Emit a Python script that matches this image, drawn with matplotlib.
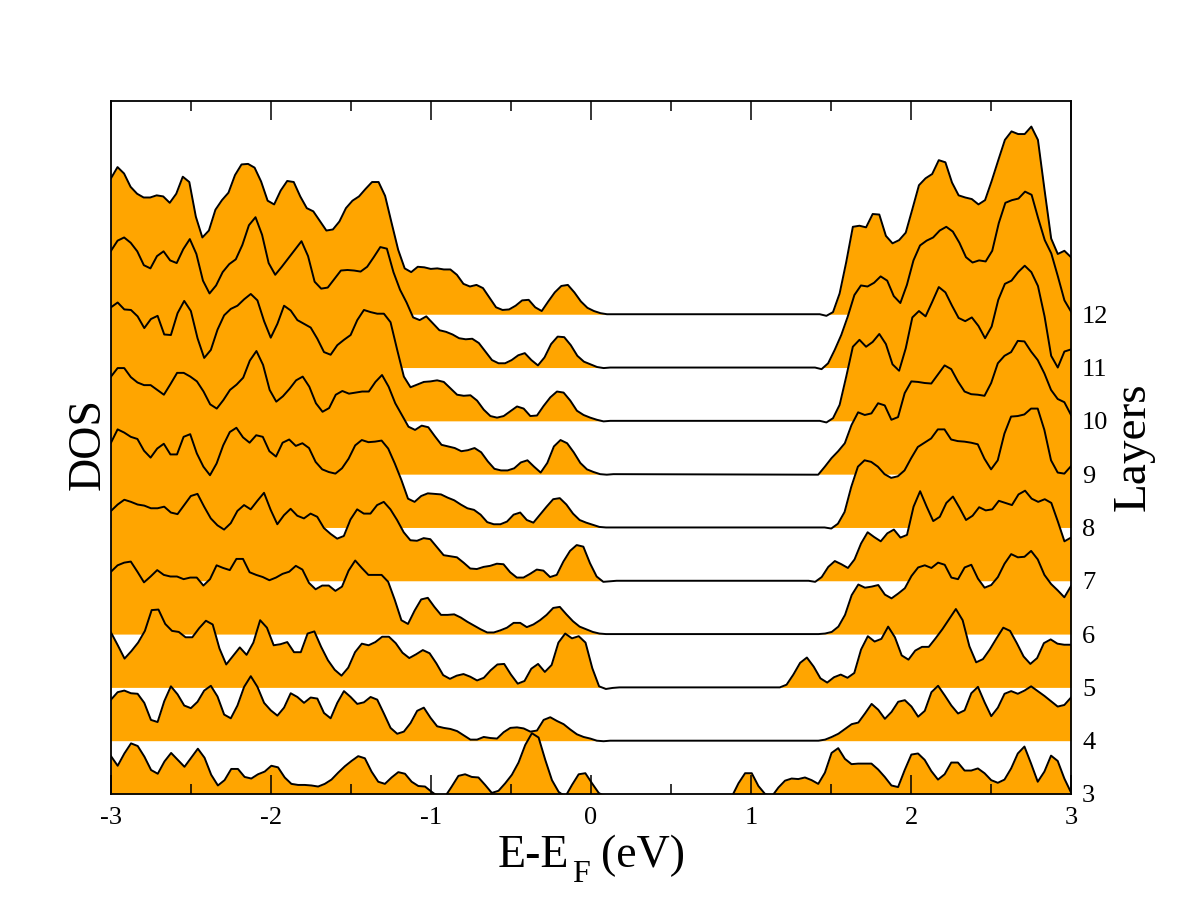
import numpy as np
import matplotlib
matplotlib.use('Agg')
import matplotlib.pyplot as plt

plt.rcParams['font.family'] = ['Liberation Serif', 'DejaVu Serif']

layers = [12, 11, 10, 9, 8, 7, 6, 5, 4, 3]
x_major = [-3, -2, -1, 0, 1, 2, 3]
x_minor = [-2.5, -1.5, -0.5, 0.5, 1.5, 2.5]
x_labels = ['-3', '-2', '-1', '0', '1', '2', '3']

# last energy of the valence part and first energy of the conduction part
valence_end = [0.10, 0.12, 0.12, 0.14, 0.135, 0.16, 0.135, 0.22, 0.12, 0.09]
conduction_start = [1.43, 1.40, 1.43, 1.42, 1.46, 1.36, 1.38, 1.18, 1.38, 0.88]

valence_12 = [2.55, 2.76, 2.64, 2.39, 2.26, 2.19, 2.19, 2.23, 2.21, 2.09, 2.26, 2.58, 2.48, 1.83, 1.44, 1.57,
              1.96, 2.14, 2.28, 2.61, 2.81, 2.82, 2.75, 2.49, 2.13, 2.06, 2.32, 2.50, 2.48, 2.21, 1.99, 1.93,
              1.75, 1.57, 1.59, 1.74, 1.99, 2.13, 2.21, 2.35, 2.48, 2.48, 2.22, 1.71, 1.21, 0.86, 0.79, 0.89,
              0.88, 0.85, 0.86, 0.84, 0.84, 0.74, 0.57, 0.52, 0.55, 0.49, 0.31, 0.13, 0.08, 0.09, 0.16, 0.26,
              0.27, 0.13, 0.06, 0.24, 0.41, 0.53, 0.55, 0.41, 0.24, 0.12, 0.06, 0.02, 0.0]
conduction_12 = [0.0, -0.03, 0.04, 0.39, 0.98, 1.64, 1.66, 1.63, 1.88, 1.87, 1.47, 1.33, 1.39, 1.53, 1.97, 2.42,
                 2.55, 2.63, 2.89, 2.85, 2.47, 2.23, 2.19, 2.16, 2.06, 2.14, 2.50, 2.89, 3.27, 3.43, 3.38,
                 3.38, 3.52, 3.27, 2.33, 1.42, 1.13, 1.19, 1.07]

valence_11 = [2.19, 2.38, 2.44, 2.34, 2.18, 1.92, 1.86, 2.09, 2.18, 2.01, 1.96, 2.22, 2.41, 2.13, 1.63, 1.39,
              1.54, 1.79, 1.94, 2.03, 2.30, 2.67, 2.82, 2.49, 1.96, 1.74, 1.89, 2.05, 2.21, 2.37, 2.09, 1.61,
              1.48, 1.50, 1.66, 1.82, 1.83, 1.82, 1.80, 1.89, 2.07, 2.26, 2.23, 1.79, 1.46, 1.22, 0.94, 0.89,
              0.96, 0.83, 0.70, 0.67, 0.62, 0.55, 0.53, 0.54, 0.46, 0.30, 0.14, 0.08, 0.08, 0.14, 0.23, 0.27,
              0.14, 0.04, 0.19, 0.44, 0.58, 0.57, 0.42, 0.22, 0.11, 0.06, 0.01, -0.01, 0.0]
conduction_11 = [0.0, -0.03, 0.08, 0.33, 0.61, 0.96, 1.36, 1.54, 1.52, 1.59, 1.71, 1.63, 1.34, 1.21, 1.55, 2.01,
                 2.29, 2.38, 2.44, 2.57, 2.64, 2.55, 2.34, 2.07, 1.97, 2.01, 1.99, 2.19, 2.71, 3.09, 3.14,
                 3.17, 3.30, 3.24, 2.80, 2.39, 2.14, 1.71, 1.26, 1.05]

valence_10 = [2.13, 2.22, 2.09, 2.08, 1.96, 1.74, 1.91, 1.97, 1.62, 1.61, 2.02, 2.25, 2.06, 1.55, 1.18, 1.33,
              1.71, 1.98, 2.10, 2.16, 2.28, 2.38, 2.26, 1.87, 1.56, 1.82, 2.16, 2.07, 1.89, 1.82, 1.75, 1.54,
              1.29, 1.24, 1.42, 1.52, 1.61, 1.89, 2.08, 2.04, 2.01, 2.01, 1.85, 1.33, 0.83, 0.63, 0.68, 0.73,
              0.74, 0.76, 0.73, 0.61, 0.49, 0.47, 0.48, 0.38, 0.21, 0.09, 0.06, 0.09, 0.18, 0.27, 0.23, 0.09,
              0.10, 0.28, 0.44, 0.55, 0.53, 0.38, 0.19, 0.11, 0.06, 0.02, -0.01, 0.0]
conduction_10 = [0.0, -0.03, 0.05, 0.30, 0.83, 1.39, 1.52, 1.39, 1.48, 1.63, 1.44, 1.06, 0.94, 1.36, 1.94, 2.06,
                 1.96, 2.23, 2.51, 2.41, 2.16, 1.93, 1.87, 1.94, 1.78, 1.55, 1.77, 2.27, 2.57, 2.63, 2.79,
                 2.91, 2.79, 2.53, 1.96, 1.22, 1.00, 1.30, 1.34]

valence_9 = [1.83, 1.99, 1.99, 1.82, 1.72, 1.67, 1.67, 1.58, 1.49, 1.69, 1.90, 1.90, 1.83, 1.74, 1.55, 1.31,
             1.23, 1.39, 1.58, 1.68, 1.81, 2.13, 2.31, 2.05, 1.58, 1.36, 1.46, 1.60, 1.76, 1.83, 1.64, 1.33,
             1.17, 1.24, 1.49, 1.56, 1.51, 1.53, 1.55, 1.55, 1.73, 1.86, 1.64, 1.33, 1.11, 0.89, 0.83, 0.91,
             0.88, 0.71, 0.55, 0.52, 0.49, 0.43, 0.45, 0.49, 0.41, 0.24, 0.10, 0.07, 0.07, 0.11, 0.22, 0.26,
             0.14, 0.03, 0.21, 0.52, 0.64, 0.58, 0.41, 0.21, 0.09, 0.04, 0.0, -0.01, 0.0]
conduction_9 = [-0.01, 0.14, 0.30, 0.43, 0.58, 0.92, 1.16, 1.11, 1.14, 1.33, 1.29, 1.02, 1.07, 1.52, 1.74,
                1.73, 1.71, 1.70, 1.87, 2.04, 1.97, 1.74, 1.55, 1.50, 1.49, 1.47, 1.71, 2.08, 2.22, 2.29,
                2.50, 2.49, 2.30, 2.14, 1.89, 1.58, 1.41, 1.35, 1.11]

valence_8 = [1.59, 1.84, 1.78, 1.70, 1.66, 1.44, 1.31, 1.48, 1.57, 1.37, 1.37, 1.70, 1.75, 1.39, 1.14, 0.98,
             1.20, 1.54, 1.79, 1.87, 1.69, 1.59, 1.73, 1.70, 1.43, 1.33, 1.59, 1.65, 1.53, 1.58, 1.49, 1.23,
             1.09, 1.04, 1.01, 1.11, 1.29, 1.54, 1.64, 1.60, 1.61, 1.63, 1.48, 1.20, 0.89, 0.54, 0.48, 0.59,
             0.64, 0.63, 0.62, 0.56, 0.51, 0.43, 0.36, 0.33, 0.24, 0.10, 0.06, 0.06, 0.11, 0.24, 0.28, 0.14,
             0.09, 0.24, 0.39, 0.53, 0.55, 0.43, 0.26, 0.14, 0.09, 0.05, 0.01, 0.0, 0.0]
conduction_8 = [0.0, -0.02, 0.07, 0.29, 0.76, 1.14, 1.26, 1.23, 1.14, 1.00, 0.93, 0.96, 1.07, 1.30, 1.51,
                1.59, 1.67, 1.84, 1.84, 1.65, 1.62, 1.61, 1.59, 1.56, 1.29, 1.09, 1.26, 1.76, 2.08, 2.09,
                2.12, 2.23, 2.23, 1.83, 1.26, 1.03, 1.01, 1.15]

valence_7 = [1.31, 1.43, 1.52, 1.48, 1.43, 1.41, 1.36, 1.36, 1.39, 1.28, 1.25, 1.42, 1.59, 1.63, 1.39, 1.17,
             1.04, 0.96, 1.08, 1.31, 1.42, 1.34, 1.50, 1.65, 1.33, 1.06, 1.23, 1.35, 1.22, 1.17, 1.26, 1.20,
             0.99, 0.88, 0.79, 0.84, 1.15, 1.34, 1.26, 1.26, 1.42, 1.48, 1.34, 1.14, 0.91, 0.76, 0.75, 0.80,
             0.78, 0.63, 0.48, 0.46, 0.44, 0.34, 0.23, 0.22, 0.26, 0.28, 0.32, 0.31, 0.16, 0.06, 0.06, 0.13,
             0.21, 0.19, 0.07, 0.11, 0.36, 0.56, 0.67, 0.64, 0.33, 0.08, -0.02, -0.01, 0.0]
conduction_7 = [0.0, -0.02, 0.07, 0.26, 0.37, 0.31, 0.24, 0.40, 0.70, 0.91, 0.82, 0.74, 0.89, 0.96, 0.81, 0.86,
                1.39, 1.68, 1.39, 1.12, 1.20, 1.46, 1.58, 1.37, 1.14, 1.22, 1.38, 1.32, 1.34, 1.50, 1.46,
                1.42, 1.62, 1.69, 1.54, 1.48, 1.53, 1.46, 1.11, 0.74, 0.81]

valence_6 = [1.17, 1.29, 1.34, 1.36, 1.17, 0.97, 1.08, 1.20, 1.11, 1.08, 1.08, 1.03, 1.06, 1.06, 0.91, 1.03,
             1.29, 1.24, 1.20, 1.41, 1.41, 1.16, 1.11, 1.07, 1.01, 1.06, 1.13, 1.17, 1.28, 1.21, 0.96, 0.84,
             0.91, 0.91, 0.81, 0.89, 1.19, 1.38, 1.24, 1.11, 1.11, 1.11, 0.98, 0.64, 0.26, 0.19, 0.44, 0.65,
             0.68, 0.51, 0.36, 0.36, 0.37, 0.31, 0.23, 0.16, 0.09, 0.03, 0.03, 0.07, 0.12, 0.21, 0.21, 0.13,
             0.18, 0.26, 0.36, 0.49, 0.51, 0.37, 0.24, 0.14, 0.09, 0.04, 0.01, 0.0, 0.0]
conduction_6 = [0.0, 0.0, 0.01, 0.04, 0.14, 0.36, 0.73, 0.93, 0.87, 0.89, 0.92, 0.74, 0.67, 0.76, 0.86,
                1.09, 1.25, 1.29, 1.24, 1.34, 1.30, 1.06, 1.03, 1.25, 1.30, 1.04, 0.87, 0.92, 1.07, 1.32,
                1.50, 1.44, 1.45, 1.56, 1.40, 1.11, 0.94, 0.82, 0.69, 0.90]

valence_5 = [1.03, 0.79, 0.54, 0.68, 0.84, 1.06, 1.45, 1.46, 1.19, 1.06, 1.04, 0.94, 0.94, 1.11, 1.25, 1.18,
             0.73, 0.43, 0.59, 0.75, 0.61, 0.84, 1.26, 1.12, 0.79, 0.81, 0.85, 0.66, 0.66, 1.01, 1.05, 0.76,
             0.51, 0.33, 0.22, 0.37, 0.66, 0.82, 0.79, 0.85, 0.95, 0.95, 0.83, 0.65, 0.55, 0.62, 0.70, 0.64,
             0.45, 0.23, 0.16, 0.22, 0.25, 0.20, 0.13, 0.18, 0.32, 0.43, 0.44, 0.24, 0.07, 0.12, 0.35, 0.44,
             0.29, 0.42, 0.84, 1.01, 0.92, 0.96, 0.84, 0.36, 0.02, -0.03, -0.01, 0.0, 0.0]
conduction_5 = [0.0, 0.05, 0.24, 0.46, 0.56, 0.39, 0.17, 0.09, 0.19, 0.24, 0.18, 0.27, 0.71, 0.96, 0.86,
                0.91, 1.14, 0.94, 0.60, 0.52, 0.69, 0.76, 0.76, 0.92, 1.09, 1.28, 1.47, 1.26, 0.77, 0.47,
                0.53, 0.71, 0.92, 1.12, 1.06, 0.83, 0.58, 0.44, 0.55, 0.83, 0.90, 0.82, 0.80, 0.80]

valence_4 = [0.77, 0.91, 0.94, 0.89, 0.88, 0.71, 0.39, 0.35, 0.74, 1.02, 0.87, 0.66, 0.61, 0.73, 0.94, 1.03,
             0.83, 0.49, 0.42, 0.66, 1.01, 1.21, 1.01, 0.71, 0.57, 0.47, 0.62, 0.89, 0.82, 0.71, 0.81, 0.79,
             0.52, 0.42, 0.71, 0.93, 0.82, 0.69, 0.72, 0.82, 0.77, 0.51, 0.24, 0.13, 0.17, 0.33, 0.56, 0.62,
             0.43, 0.27, 0.24, 0.22, 0.18, 0.10, 0.02, 0.02, 0.07, 0.05, 0.04, 0.16, 0.24, 0.25, 0.23, 0.17,
             0.19, 0.39, 0.44, 0.37, 0.31, 0.21, 0.12, 0.07, 0.04, 0.0, -0.01, 0.0]
conduction_4 = [0.0, 0.0, 0.02, 0.07, 0.13, 0.22, 0.31, 0.34, 0.51, 0.69, 0.58, 0.41, 0.54, 0.73, 0.76,
                0.64, 0.45, 0.56, 0.91, 1.03, 0.85, 0.66, 0.51, 0.57, 0.89, 1.01, 0.72, 0.46, 0.62, 0.88,
                0.93, 0.88, 0.94, 1.02, 0.93, 0.84, 0.74, 0.64, 0.67, 0.81]

valence_3 = [0.71, 0.53, 0.76, 0.95, 0.90, 0.70, 0.45, 0.38, 0.61, 0.77, 0.64, 0.51, 0.68, 0.85, 0.68, 0.36,
             0.16, 0.26, 0.47, 0.47, 0.32, 0.29, 0.37, 0.42, 0.53, 0.50, 0.31, 0.19, 0.17, 0.17, 0.16, 0.14,
             0.19, 0.27, 0.40, 0.52, 0.62, 0.71, 0.67, 0.42, 0.23, 0.19, 0.31, 0.41, 0.38, 0.23, 0.15, 0.14,
             0.04, -0.05, -0.05, 0.14, 0.34, 0.37, 0.32, 0.31, 0.17, 0.02, 0.06, 0.20, 0.36, 0.59, 0.92, 1.14,
             1.06, 0.64, 0.26, 0.04, -0.05, 0.17, 0.37, 0.39, 0.20, 0.02, -0.05]
conduction_3 = [-0.05, 0.20, 0.39, 0.39, 0.15, 0.0, -0.05, 0.12, 0.25, 0.29, 0.28, 0.31, 0.26, 0.19, 0.40,
                0.77, 0.86, 0.66, 0.56, 0.57, 0.57, 0.57, 0.46, 0.32, 0.16, 0.13, 0.45, 0.74, 0.76, 0.64,
                0.43, 0.27, 0.37, 0.59, 0.59, 0.44, 0.44, 0.48, 0.39, 0.26, 0.21, 0.27, 0.48, 0.76, 0.89,
                0.57, 0.23, 0.42, 0.72, 0.62, 0.29, 0.03]

valence = [valence_12, valence_11, valence_10, valence_9, valence_8,
           valence_7, valence_6, valence_5, valence_4, valence_3]
conduction = [conduction_12, conduction_11, conduction_10, conduction_9, conduction_8,
              conduction_7, conduction_6, conduction_5, conduction_4, conduction_3]


def main():
    fig = plt.figure(figsize=(11.96, 9.19), dpi=100)
    ax = fig.add_axes([111/1196, 1-794/919, 960/1196, 693/919])

    # top layer first, every lower layer paints over the one above
    for k, layer in enumerate(layers):
        e_val = np.linspace(-3, valence_end[k], len(valence[k]))
        e_con = np.linspace(conduction_start[k], 3, len(conduction[k]))
        energy = np.concatenate([e_val, e_con])
        dos = np.array(valence[k] + conduction[k])
        ax.fill_between(energy, layer, layer + np.maximum(dos, 0), color='#ffa500',
                        linewidth=0, zorder=1 + k*0.05)
        ax.plot(energy, layer + dos, color='black', lw=1.4, zorder=1.01 + k*0.05)

    ax.set_xlim(-3, 3)
    ax.set_ylim(3, 16)
    ax.set_xticks(x_major)
    ax.set_xticklabels(x_labels)
    ax.set_xticks(x_minor, minor=True)
    ax.set_yticks(layers)
    ax.yaxis.tick_right()

    ax.tick_params(axis='x', which='major', direction='in', top=True, length=14, width=1.1,
                   labelsize=19, pad=9)
    ax.tick_params(axis='x', which='minor', direction='in', top=True, length=7, width=1.1)
    ax.tick_params(axis='y', which='major', length=0, labelsize=19, pad=8)
    for spine in ax.spines.values():
        spine.set_linewidth(1.3)
        spine.set_zorder(5)

    fig.text(498/1196, 1-867/919, 'E-E', fontsize=33, ha='left', va='baseline')
    fig.text(572/1196, 1-882/919, 'F', fontsize=23, ha='left', va='baseline')
    fig.text(685/1196, 1-867/919, '(eV)', fontsize=33, ha='right', va='baseline')
    fig.text(88/1196, 1-444/919, 'DOS', fontsize=33, rotation=90, ha='center', va='center')
    fig.text(1133/1196, 1-447/919, 'Layers', fontsize=34, rotation=90, ha='center', va='center')

    fig.savefig('out.png', dpi=100)


if __name__ == '__main__':
    main()
